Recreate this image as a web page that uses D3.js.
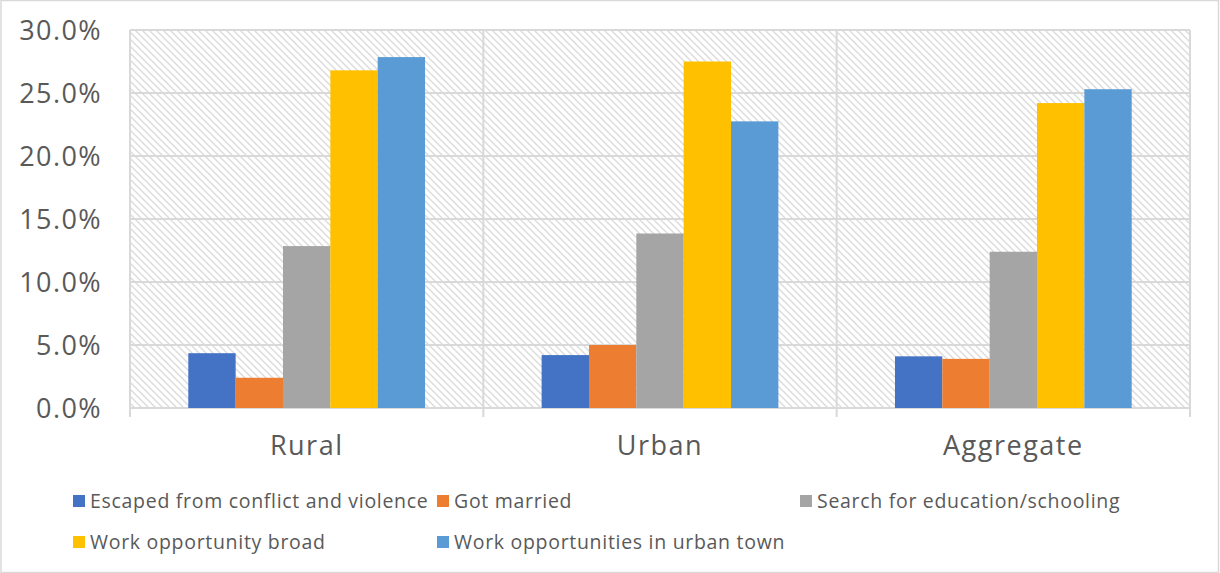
<!DOCTYPE html>
<html>
<head>
<meta charset="utf-8">
<script src="https://cdn.jsdelivr.net/npm/d3@7"></script>
<style>
  html, body { margin: 0; padding: 0; background: #fff; }
  svg { display: block; font-family: "Open Sans", "Lato", sans-serif; }
</style>
</head>
<body>
<svg id="chart" width="1220" height="573"></svg>
<script>
// Reasons for migration, share of respondents by location
const categories = ["Rural", "Urban", "Aggregate"];
const seriesNames = [
  "Escaped from conflict and violence",
  "Got married",
  "Search for education/schooling",
  "Work opportunity broad",
  "Work opportunities in urban town"
];
const seriesColors = ["#4472C4", "#ED7D31", "#A5A5A5", "#FFC000", "#5B9BD5"];
const escapedConflict = [4.35, 4.2, 4.1];
const gotMarried = [2.4, 5.0, 3.9];
const searchEducation = [12.85, 13.85, 12.4];
const workAbroad = [26.8, 27.5, 24.2];
const workUrbanTown = [27.85, 22.75, 25.3];
const yTicks = [0, 5, 10, 15, 20, 25, 30];

const seriesValues = [escapedConflict, gotMarried, searchEducation, workAbroad, workUrbanTown];

const svg = d3.select("#chart");
const W = 1220, H = 573;
const plot = { left: 130, right: 1190, top: 30, bottom: 408 };

// outer frame
svg.append("rect")
  .attr("x", 1).attr("y", 0.5).attr("width", W - 2.5).attr("height", H - 1)
  .attr("fill", "#fff").attr("stroke", "#d9d9d9").attr("stroke-width", 1.5);

// diagonal hatch fill for the plotting area
const defs = svg.append("defs");
const pat = defs.append("pattern")
  .attr("id", "hatch").attr("patternUnits", "userSpaceOnUse")
  .attr("width", 7).attr("height", 7);
pat.append("rect").attr("width", 7).attr("height", 7).attr("fill", "#fff");
pat.append("path")
  .attr("d", "M-1,-1 L8,8 M-1,6 L1,8 M6,-1 L8,1")
  .attr("stroke", "#dcdcdc").attr("stroke-width", 1.4);

const x0 = d3.scaleBand().domain(categories).range([plot.left, plot.right]).padding(0);
const groupPad = 58.3;
const x1 = d3.scaleBand().domain(d3.range(seriesNames.length))
  .range([groupPad, x0.bandwidth() - groupPad]).padding(0);
const y = d3.scaleLinear().domain([0, 30]).range([plot.bottom, plot.top]);

svg.append("rect")
  .attr("x", plot.left).attr("y", plot.top)
  .attr("width", plot.right - plot.left).attr("height", plot.bottom - plot.top)
  .attr("fill", "url(#hatch)");

// horizontal gridlines
svg.append("g").selectAll("line").data(yTicks).join("line")
  .attr("x1", plot.left).attr("x2", plot.right)
  .attr("y1", d => y(d)).attr("y2", d => y(d))
  .attr("stroke", "#d9d9d9").attr("stroke-width", 2);

// vertical category separators, extending below the axis as ticks
const seps = categories.map(c => x0(c)).concat([plot.right]);
svg.append("g").selectAll("line").data(seps).join("line")
  .attr("x1", d => d).attr("x2", d => d)
  .attr("y1", plot.top).attr("y2", plot.bottom + 9)
  .attr("stroke", "#d9d9d9").attr("stroke-width", 2);

// bars
const groups = svg.append("g").selectAll("g").data(categories).join("g")
  .attr("transform", c => `translate(${x0(c)},0)`);
groups.selectAll("rect")
  .data((c, ci) => seriesValues.map((vals, si) => ({ si, v: vals[ci] })))
  .join("rect")
  .attr("x", d => x1(d.si))
  .attr("width", x1.bandwidth())
  .attr("y", d => y(d.v))
  .attr("height", d => y(0) - y(d.v))
  .attr("fill", d => seriesColors[d.si]);

// y axis labels
svg.append("g").selectAll("text").data(yTicks).join("text")
  .attr("x", 102).attr("y", d => y(d))
  .attr("dy", "0.36em").attr("text-anchor", "end")
  .attr("font-size", 27).attr("letter-spacing", 1.4).attr("fill", "#595959")
  .text(d => d3.format(".1f")(d) + "%");

// category labels
svg.append("g").selectAll("text").data(categories).join("text")
  .attr("x", c => x0(c) + x0.bandwidth() / 2).attr("y", 445)
  .attr("dy", "0.36em").attr("text-anchor", "middle")
  .attr("font-size", 27).attr("letter-spacing", 1.5).attr("fill", "#595959")
  .text(c => c);

// legend
const legendPos = [
  { x: 73, y: 501 }, { x: 437, y: 501 }, { x: 800, y: 501 },
  { x: 73, y: 542 }, { x: 437, y: 542 }
];
const leg = svg.append("g").selectAll("g").data(seriesNames).join("g")
  .attr("transform", (d, i) => `translate(${legendPos[i].x},${legendPos[i].y})`);
leg.append("rect")
  .attr("x", 0).attr("y", -6).attr("width", 12).attr("height", 12)
  .attr("fill", (d, i) => seriesColors[i]);
leg.append("text")
  .attr("x", 17).attr("y", 0).attr("dy", "0.36em")
  .attr("font-size", 19.5).attr("letter-spacing", 0.7).attr("fill", "#595959")
  .text(d => d);
</script>
</body>
</html>
